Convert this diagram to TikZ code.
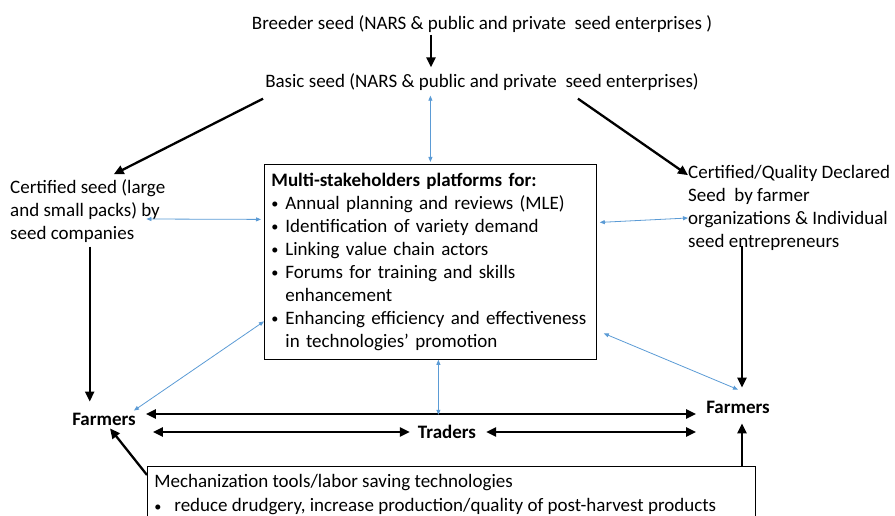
\documentclass[tikz,border=0pt]{standalone}
\usepackage{fontspec}
\setmainfont{Carlito}
\usetikzlibrary{arrows.meta,calc}
\definecolor{linkblue}{RGB}{91,155,213}
\newcommand{\itembullet}[1][14pt]{\makebox[#1][l]{\raisebox{0.5pt}{\scalebox{0.75}{\textbullet}}}}

\begin{document}
\begin{tikzpicture}[
            x=1pt, y=-1pt,
            every node/.style={black, inner sep=0pt, align=left, font=\fontsize{19}{23}\selectfont},
            seedarrow/.style={-{Triangle[length=10pt,width=9pt]}, line width=2.3pt},
            tradearrow/.style={{Triangle[length=10pt,width=9pt]}-{Triangle[length=10pt,width=9pt]}, line width=2.3pt},
            linkarrow/.style={{Triangle[length=5pt,width=4pt]}-{Triangle[length=5pt,width=4pt]}, line width=0.8pt, linkblue}
        ]
            \useasboundingbox (0,0) rectangle (895,516);

            \node (breeder) at (482,24) {Breeder seed (NARS \& public and private\ \ seed enterprises )};
            \node (basic) at (482,82) {Basic seed (NARS \& public and private\ \ seed enterprises)};
            \node (certL) [anchor=west] at (10,211) {Certified seed (large\\and small packs) by\\seed companies};
            \node (certR) [anchor=west] at (688,208) {Certified/Quality Declared\\Seed\ \ by farmer\\organizations \& Individual\\seed entrepreneurs};
            \node (platform) [draw, line width=0.8pt, anchor=north west, inner xsep=7pt, text width=318pt, minimum height=195pt] at (264,164)
                {\textbf{Multi-stakeholders platforms for:}\\
                \itembullet Annual planning and reviews (MLE)\\
                \itembullet Identification of variety demand\\
                \itembullet Linking value chain actors\\
                \itembullet Forums for training and skills\\
                \hspace*{14pt}enhancement\\
                \itembullet Enhancing efficiency and \mbox{effectiveness}\\
                \hspace*{14pt}in technologies’ promotion};
            \node (farmL) [font=\fontsize{19}{23}\selectfont\bfseries] at (104,419) {Farmers};
            \node (farmR) [font=\fontsize{19}{23}\selectfont\bfseries] at (738,407) {Farmers};
            \node (traders) [font=\fontsize{19}{23}\selectfont\bfseries] at (447,432) {Traders};
            \node (mech) [draw, line width=0.8pt, anchor=north west, inner xsep=7pt, inner ysep=8pt] at (147,466)
                {\parbox[t][80pt][t]{594pt}{\fontsize{19}{24}\selectfont Mechanization tools/labor saving technologies\\
                \itembullet[20pt]reduce drudgery, increase production/quality of post-harvest products}};

            % seed flow
            \draw [seedarrow] ([xshift=-51pt,yshift=-2pt]breeder.south) -- ([xshift=-51pt,yshift=6pt]basic.north);
            \draw [seedarrow] ([xshift=-2pt,yshift=-8pt]basic.south west) -- ([xshift=26pt,yshift=5pt]certL.north);
            \draw [seedarrow] ([xshift=-121pt,yshift=-8pt]basic.south east) -- ([yshift=-10pt]certR.north west);
            \draw [seedarrow] ($(certL.south)+(2,4)$) -- ($(certL.south |- farmL.north)+(2,-11)$);
            \draw [seedarrow] ($(farmR.north |- certR.south)+(4,-5)$) -- ($(farmR.north)+(4,-13)$);
            \draw [seedarrow] ([yshift=-9pt]mech.north west) -- ([xshift=6pt,yshift=-3pt]farmL.south);
            \draw [seedarrow] ($(farmR.south |- mech.north)+(4,0)$) -- ($(farmR.south)+(4,10)$);

            % market
            \draw [tradearrow] ([xshift=10pt,yshift=5pt]farmL.east) -- ([xshift=-10pt,yshift=-7pt]farmR.west);
            \draw [tradearrow] ($(traders.west -| farmL.east)+(17,0)$) -- ([xshift=-8pt]traders.west);
            \draw [tradearrow] ([xshift=10pt]traders.east) -- ($(traders.east -| farmR.west)+(-10,0)$);

            % platform links
            \draw [linkarrow] ($(basic.south -| platform.north)+(0,5)$) -- ([yshift=2pt]platform.north);
            \draw [linkarrow] ([xshift=-19pt,yshift=-8pt]certL.east) -- ([xshift=-3pt,yshift=42.5pt]platform.west);
            \draw [linkarrow] ([xshift=3pt,yshift=39.5pt]platform.east) -- ([yshift=-10pt]certR.west);
            \draw [linkarrow] ([xshift=-2pt,yshift=2pt]farmL.north east) -- ([yshift=-59.5pt]platform.west);
            \draw [linkarrow] ([xshift=7pt,yshift=-71.5pt]platform.east) -- ([yshift=11pt]farmR.north);
            \draw [linkarrow] ([xshift=8pt]platform.south) -- ($(platform.south)+(8,55)$);
        \end{tikzpicture}
\end{document}
